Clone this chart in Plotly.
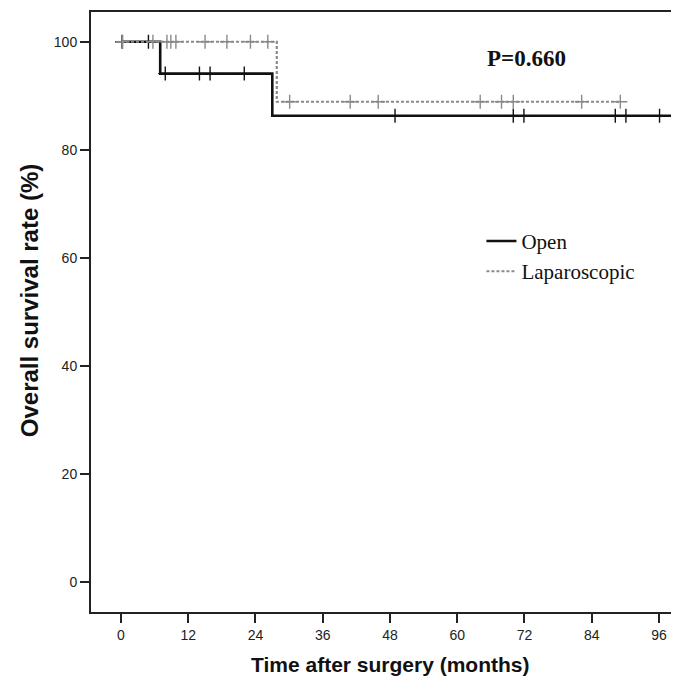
import plotly.graph_objects as go

# ---- data ----
groups = ["Open", "Laparoscopic"]

open_event_times = [7.0, 27.0]
open_surv_after = [94.1, 86.3]
open_last_followup = 104.0
open_cens_times = [0.2, 4.9, 7.9, 14.0, 15.9, 22.0, 48.9, 70.0, 71.9, 88.2, 90.1, 96.1]

lap_event_times = [27.8]
lap_surv_after = [88.9]
lap_last_followup = 89.1
lap_cens_times = [0.3, 5.7, 8.2, 8.9, 9.8, 15.0, 18.9, 23.1, 26.2,
                  30.1, 40.9, 45.9, 64.1, 67.9, 70.0, 82.2, 89.1]

x_ticks = [0, 12, 24, 36, 48, 60, 72, 84, 96]
y_ticks = [0, 20, 40, 60, 80, 100]
p_text = "P=0.660"
x_title = "Time after surgery (months)"
y_title = "Overall survival rate (%)"


def step_curve(event_times, surv_after, last_t):
    xs = [0.0] + list(event_times) + [last_t]
    ys = [100.0] + list(surv_after) + [surv_after[-1]]
    return xs, ys


def surv_at(t, event_times, surv_after):
    s = 100.0
    for et, sv in zip(event_times, surv_after):
        if t >= et:
            s = sv
    return s


fig = go.Figure()

specs = [
    ("Open", open_event_times, open_surv_after, open_last_followup, open_cens_times,
     "#111111", 2.6, "solid"),
    ("Laparoscopic", lap_event_times, lap_surv_after, lap_last_followup, lap_cens_times,
     "#8a8a8a", 2.2, "3px,2px"),
]

for name, et, sa, last, cens, color, w, dash in specs:
    xs, ys = step_curve(et, sa, last)
    fig.add_trace(go.Scatter(
        x=xs, y=ys, mode="lines", name=name,
        line=dict(color=color, width=w, dash=dash, shape="hv"),
        showlegend=True,
    ))
    fig.add_trace(go.Scatter(
        x=cens, y=[surv_at(t, et, sa) for t in cens], mode="markers",
        marker=dict(symbol="cross-thin", size=10, line=dict(color=color, width=1.4)),
        showlegend=False, hoverinfo="skip",
    ))

fig.add_annotation(
    x=72.4, y=96.9, xref="x", yref="y", text="<b>" + p_text + "</b>",
    showarrow=False, font=dict(family="Liberation Serif", size=23, color="#111111"),
)
fig.add_annotation(
    x=0.510, y=-0.088, xref="paper", yref="paper", text="<b>" + x_title + "</b>",
    showarrow=False, xanchor="center", yanchor="middle",
    font=dict(family="Liberation Sans", size=21, color="#111111"),
)
fig.add_annotation(
    x=-0.1054, y=0.518, xref="paper", yref="paper", text="<b>" + y_title + "</b>",
    showarrow=False, xanchor="center", yanchor="middle", textangle=-90,
    font=dict(family="Liberation Sans", size=24, color="#111111"),
)

axis_font = dict(family="Liberation Sans", size=14, color="#222222")

# the page body has an 8px margin, so the figure is 8px smaller than the window
fig.update_layout(
    width=671, height=676,
    margin=dict(l=83, r=0, t=4, b=72),
    paper_bgcolor="white", plot_bgcolor="white",
    showlegend=True,
    legend=dict(
        x=0.664, y=0.652, xanchor="left", yanchor="top",
        font=dict(family="Liberation Serif", size=21, color="#111111"),
        bgcolor="rgba(0,0,0,0)", itemwidth=30, tracegroupgap=0,
    ),
    xaxis=dict(
        range=[-5.35, 99.57], tickmode="array", tickvals=x_ticks,
        ticktext=[str(v) for v in x_ticks],
        showgrid=False, zeroline=False, showline=True, linecolor="#222222", linewidth=2,
        mirror=True, ticks="outside", ticklen=9, tickwidth=2, tickcolor="#222222",
        tickfont=axis_font,
    ),
    yaxis=dict(
        range=[-5.5, 105.5], tickmode="array", tickvals=y_ticks,
        ticktext=[str(v) for v in y_ticks],
        showgrid=False, zeroline=False, showline=True, linecolor="#222222", linewidth=2,
        ticks="outside", ticklen=9, tickwidth=2, tickcolor="#222222",
        tickfont=axis_font,
    ),
)

fig.write_html("out.html")
